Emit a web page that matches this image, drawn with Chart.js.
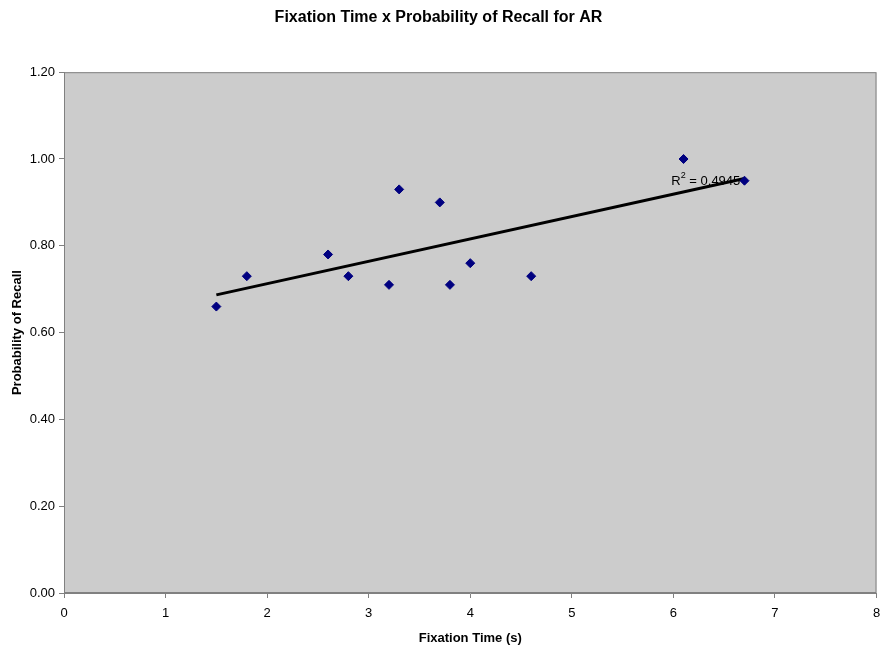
<!DOCTYPE html>
<html>
<head>
<meta charset="utf-8">
<script src="https://cdn.jsdelivr.net/npm/chart.js@4/dist/chart.umd.min.js"></script>
<style>
  html, body { margin: 0; padding: 0; background: #fff; }
  #wrap { width: 882px; height: 652px; }
</style>
</head>
<body>
<div id="wrap"><canvas id="chart" width="882" height="652"></canvas></div>
<script>
// data
const fixationTime = [1.5, 1.8, 2.6, 2.8, 3.2, 3.3, 3.7, 3.8, 4.0, 4.6, 6.1, 6.7];
const recallProb = [0.66, 0.73, 0.78, 0.73, 0.71, 0.93, 0.90, 0.71, 0.76, 0.73, 1.00, 0.95];
const trendX = [1.5, 6.7];
const trendY = [0.687, 0.955];
const rSquared = '0.4945';
const xTicks = [0, 1, 2, 3, 4, 5, 6, 7, 8];
const yTicks = [0, 0.2, 0.4, 0.6, 0.8, 1.0, 1.2];

const NARROW = '"Liberation Sans Narrow", "Arial Narrow", "Liberation Sans", Arial, sans-serif';
const WIDE = '"Liberation Sans", Arial, sans-serif';

const points = fixationTime.map((x, i) => ({ x, y: recallProb[i] }));
const trend = trendX.map((x, i) => ({ x, y: trendY[i] }));

// grey plot area with a border all round
const plotArea = {
  id: 'plotArea',
  beforeDraw(chart) {
    const { ctx, chartArea: a } = chart;
    ctx.save();
    ctx.fillStyle = '#cccccc';
    ctx.fillRect(a.left, a.top, a.right - a.left, a.bottom - a.top);
    ctx.strokeStyle = '#808080';
    ctx.lineWidth = 1;
    ctx.strokeRect(a.left + 0.5, a.top + 0.5, a.right - a.left - 1, a.bottom - a.top - 1);
    ctx.restore();
  }
};

// R^2 label of the trend line
const rLabel = {
  id: 'rLabel',
  afterDatasetsDraw(chart) {
    const { ctx, scales } = chart;
    const x = scales.x.getPixelForValue(5.98);
    const y = scales.y.getPixelForValue(0.949);
    ctx.save();
    ctx.fillStyle = '#000';
    ctx.textBaseline = 'middle';
    ctx.font = '13px ' + NARROW;
    ctx.fillText('R', x, y);
    const w = ctx.measureText('R').width;
    ctx.font = '9px ' + NARROW;
    ctx.fillText('2', x + w, y - 6);
    const w2 = ctx.measureText('2').width;
    ctx.font = '13px ' + NARROW;
    ctx.fillText(' = ' + rSquared, x + w + w2, y);
    ctx.restore();
  }
};

new Chart(document.getElementById('chart'), {
  type: 'scatter',
  data: {
    datasets: [
      {
        label: 'Recall',
        data: points,
        pointStyle: 'rectRot',
        pointRadius: 4.5,
        pointBackgroundColor: '#000080',
        pointBorderColor: '#000080',
        pointBorderWidth: 1,
        showLine: false
      },
      {
        label: 'Trend',
        data: trend,
        type: 'line',
        showLine: true,
        borderColor: '#000',
        borderWidth: 3,
        pointRadius: 0,
        fill: false
      }
    ]
  },
  options: {
    responsive: false,
    animation: false,
    layout: { padding: { left: 0, right: 5, top: 0, bottom: 0 } },
    plugins: {
      legend: { display: false },
      tooltip: { enabled: false },
      title: {
        display: true,
        text: 'Fixation Time x Probability of Recall for AR',
        color: '#000',
        font: { family: NARROW, size: 16, weight: 'bold' },
        padding: { top: 8, bottom: 45 }
      }
    },
    scales: {
      x: {
        type: 'linear',
        min: 0, max: 8,
        afterBuildTicks(s) { s.ticks = xTicks.map(v => ({ value: v })); },
        afterFit(s) { s.height = 59; s.paddingLeft = 0; s.paddingRight = 0; },
        grid: { drawOnChartArea: false, drawTicks: true, tickLength: 5, tickColor: '#808080' },
        border: { color: '#808080', width: 1 },
        ticks: { color: '#000', padding: 8, font: { family: NARROW, size: 13 } },
        title: {
          display: true,
          text: 'Fixation Time (s)',
          color: '#000',
          font: { family: NARROW, size: 13, weight: 'bold' },
          padding: { top: 0, bottom: 6 }
        }
      },
      y: {
        type: 'linear',
        min: 0, max: 1.2,
        afterBuildTicks(s) { s.ticks = yTicks.map(v => ({ value: v })); },
        afterFit(s) { s.width = 64; s.paddingTop = 0; s.paddingBottom = 0; },
        grid: { drawOnChartArea: false, drawTicks: true, tickLength: 5, tickColor: '#808080' },
        border: { color: '#808080', width: 1 },
        ticks: {
          color: '#000', padding: 4,
          font: { family: NARROW, size: 13 },
          callback: v => Number(v).toFixed(2)
        },
        title: {
          display: true,
          text: 'Probability of Recall',
          color: '#000',
          font: { family: WIDE, size: 13, weight: 'bold' },
          padding: { top: 10, bottom: 0 }
        }
      }
    }
  },
  plugins: [plotArea, rLabel]
});
</script>
</body>
</html>
